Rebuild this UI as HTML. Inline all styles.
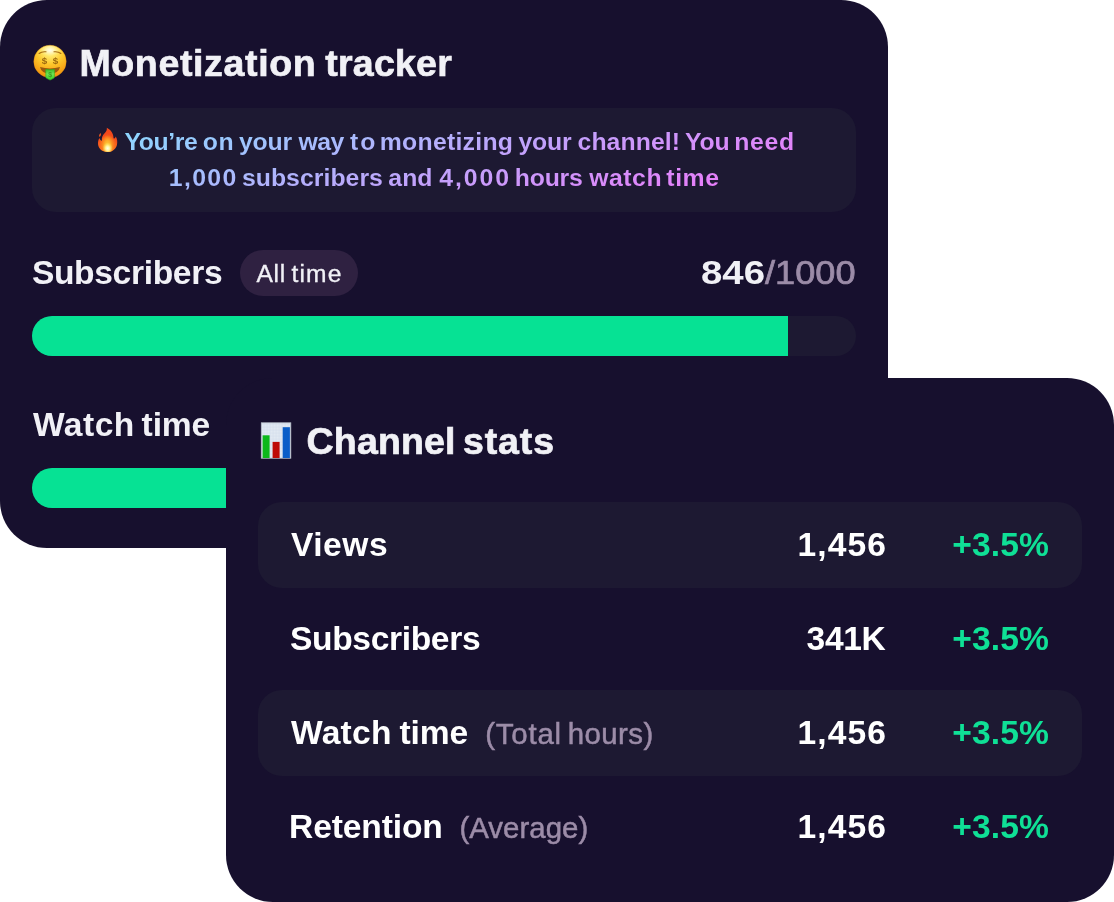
<!DOCTYPE html>
<html lang="en">
<head>
<meta charset="utf-8">
<title>Monetization tracker</title>
<style>
html,body{margin:0;padding:0;background:#fff}
body{width:1114px;height:902px;position:relative;overflow:hidden;font-family:"Liberation Sans",sans-serif;font-weight:700;color:#fff}
.card{position:absolute;width:888px;background:#17102e;border-radius:47px}
.box{position:absolute;background:#1d1932;border-radius:24px}
.bar{position:absolute;left:32px;width:824px;height:40px;border-radius:20px;background:#1d1932;overflow:hidden}
.bar i{display:block;width:756px;height:40px;background:#06e294}
.t{position:absolute;white-space:nowrap;margin:0}
.r{font-weight:400}
.h{color:#f1f1f6}
.m{color:#9c8ca8}
.g{color:#0fe096}
.e{position:absolute;display:block}
.grad{position:absolute;left:97px;top:124px;width:696px;height:72px;margin:0;background:linear-gradient(162.6deg,#86ddff,#f471f9);-webkit-background-clip:text;background-clip:text;color:transparent;-webkit-text-fill-color:transparent}
.grad>span{display:block;white-space:nowrap;height:36px}
</style>
</head>
<body>
<div class="card" style="left:0;top:0;height:548px"></div>
<svg class="e" style="left:30px;top:42px" width="40" height="40" viewBox="30 42 40 40" role="img" aria-label="money-mouth face">
<defs>
<radialGradient id="mf" cx="50" cy="50" r="28" gradientUnits="userSpaceOnUse"><stop offset="0" stop-color="#fffbd2"/><stop offset=".22" stop-color="#ffe86a"/><stop offset=".5" stop-color="#fdc82c"/><stop offset=".8" stop-color="#f7a416"/><stop offset="1" stop-color="#ec8c0c"/></radialGradient>
<linearGradient id="mt" x1="0" y1="69" x2="0" y2="80" gradientUnits="userSpaceOnUse"><stop offset="0" stop-color="#35b824"/><stop offset=".45" stop-color="#6ee455"/><stop offset="1" stop-color="#34cf27"/></linearGradient>
<radialGradient id="mh" cx=".5" cy=".5" r=".5"><stop offset="0" stop-color="#fffef0" stop-opacity=".85"/><stop offset="1" stop-color="#fff3a0" stop-opacity="0"/></radialGradient>
</defs>
<circle cx="50" cy="61.4" r="16.2" fill="url(#mf)" stroke="#ef9a10" stroke-opacity=".7" stroke-width=".6"/>
<ellipse cx="50" cy="50.5" rx="11.5" ry="5.5" fill="url(#mh)"/>
<path d="M39.1 53.5q2.8-2.3 6.9-1.7M54 51.8q4.1-.6 6.9 1.7" fill="none" stroke="#a5690f" stroke-width="1.1" stroke-linecap="round"/>
<text x="44.5" y="64.1" text-anchor="middle" font-family="Liberation Sans, sans-serif" font-weight="700" font-size="9.8" fill="#9c6a10">$</text>
<text x="55.6" y="64.1" text-anchor="middle" font-family="Liberation Sans, sans-serif" font-weight="700" font-size="9.8" fill="#9c6a10">$</text>
<path d="M40 67.1q10 2.7 20 0q-1.2 6.3-10 6.9q-8.8-.6-10-6.9z" fill="#9a5a0d"/>
<path d="M45.8 69.4q4.3.7 8.6 0v7.4q0 1-.8 1.5l-3 1.5q-.5.2-1 0l-3-1.5q-.8-.5-.8-1.5z" fill="url(#mt)" stroke="#2fb520" stroke-width=".6"/>
<text x="50.1" y="76.6" text-anchor="middle" font-family="Liberation Sans, sans-serif" font-weight="700" font-size="7" fill="#3f9f25">$</text>
</svg>
<div class="t h" style="left:79.4px;top:45px;font-size:37.5px;line-height:37.5px;-webkit-text-stroke:0.7px currentColor"><span style="letter-spacing:.65px;word-spacing:-2.24px">Monetization </span><span style="letter-spacing:.26px">tracker</span></div>
<div class="box" style="left:32px;top:108px;width:824px;height:104px"></div>
<svg class="e" style="left:96px;top:126px" width="24" height="28" viewBox="96 126 24 28" role="img" aria-label="fire">
<defs>
<radialGradient id="ff" cx="107.7" cy="146" r="17" gradientUnits="userSpaceOnUse"><stop offset="0" stop-color="#fc8a1f"/><stop offset=".45" stop-color="#f9691d"/><stop offset=".62" stop-color="#f24a1b"/><stop offset="1" stop-color="#f0461b"/></radialGradient>
<radialGradient id="fa" cx=".5" cy=".5" r=".5"><stop offset="0" stop-color="#ffd23f"/><stop offset=".45" stop-color="#fdb52b" stop-opacity=".85"/><stop offset="1" stop-color="#fb8a1e" stop-opacity="0"/></radialGradient>
<radialGradient id="fb" cx=".5" cy=".5" r=".5"><stop offset="0" stop-color="#fffef0"/><stop offset=".4" stop-color="#fff6a0" stop-opacity=".95"/><stop offset="1" stop-color="#ffdc4a" stop-opacity="0"/></radialGradient>
<clipPath id="fc"><path d="M106.8 127.7c3.1 1.6 6 4.6 6.5 8.3c.2 1.4.1 2.6.9 2.6c.8 0 1.2-1.1 1.5-2c1.5 2.2 1.9 5.4 1.3 8.1c-.9 3.9-4.2 7.3-9.4 7.3c-5.6 0-9.2-3.4-9.6-7.7c-.2-2.5.4-4.7 1.5-6.3c.4 1.4 1 2.6 2.4 2.8c-.5-3.3.8-5.6 2.7-7.5c1.6-1.6 2.6-3.3 2.2-5.6z"/></clipPath>
</defs>
<g clip-path="url(#fc)">
<rect x="96" y="126" width="24" height="28" fill="url(#ff)"/>
<ellipse cx="107.6" cy="145.5" rx="7.2" ry="11.5" fill="url(#fa)"/>
<ellipse cx="107.7" cy="148.3" rx="5.2" ry="6" fill="url(#fb)"/>
</g>
<path d="M100.6 133.1c.6 1.2.4 2.5-.5 3.4c-.7.6-1.2 0-1-.9c.2-1 .8-1.9 1.5-2.5z" fill="#f4561c"/>
</svg>
<p class="grad"><span style="padding-left:27.5px;font-size:24.8px;line-height:36px"><span style="letter-spacing:-.39px;word-spacing:-1.28px">You’re </span><span style="letter-spacing:.56px;word-spacing:-2.56px">on </span><span style="letter-spacing:-.23px">your </span><span style="letter-spacing:-.56px">way </span><span style="letter-spacing:1.96px;word-spacing:-6.4px">to </span><span style="letter-spacing:.25px;word-spacing:-1.76px">monetizing </span><span style="letter-spacing:-.23px;word-spacing:-.48px">your </span><span style="letter-spacing:.06px;word-spacing:-2.08px">channel! </span><span style="letter-spacing:-.14px;word-spacing:-2.08px">You </span><span style="letter-spacing:.75px">need</span></span><span style="padding-left:71.8px;font-size:24.8px;line-height:36px"><span style="letter-spacing:1.36px;word-spacing:-4px">1,000 </span><span style="letter-spacing:.04px;word-spacing:-1.6px">subscribers </span><span style="letter-spacing:.07px;word-spacing:-.32px">and </span><span style="letter-spacing:1.96px;word-spacing:-5.12px">4,000 </span><span style="letter-spacing:-.21px;word-spacing:-.16px">hours </span><span style="letter-spacing:.53px;word-spacing:-3.2px">watch </span><span style="letter-spacing:.56px">time</span></span></p>
<div class="t h" style="left:31.9px;top:256px;font-size:33.6px;line-height:33.6px;letter-spacing:-.34px">Subscribers</div>
<div class="box" style="left:240px;top:250px;width:118px;height:46px;border-radius:23px;background:#2f2141"></div>
<div class="t h r" style="left:256.5px;top:262px;font-size:24.6px;line-height:24.6px;-webkit-text-stroke:0.35px currentColor"><span style="letter-spacing:.7px;word-spacing:-2.08px">All </span><span style="letter-spacing:1.21px">time</span></div>
<div class="t h" style="left:701.06px;top:256px;font-size:33.6px;line-height:33.6px;transform:scaleX(1.144);transform-origin:0 0">846</div>
<div class="t m r" style="left:765px;top:256px;font-size:33.6px;line-height:33.6px;-webkit-text-stroke:0.7px currentColor;transform:scaleX(1.078);transform-origin:0 0">/1000</div>
<div class="bar" style="top:316px"><i></i></div>
<div class="t h" style="left:32.9px;top:408px;font-size:33.6px;line-height:33.6px"><span style="letter-spacing:.49px;word-spacing:-3.04px">Watch </span><span style="letter-spacing:-.14px">time</span></div>
<div class="bar" style="top:468px"><i></i></div>
<div class="card" style="left:226px;top:378px;height:524px"></div>
<svg class="e" style="left:260px;top:421px" width="32" height="38" viewBox="260 421 32 38" role="img" aria-label="bar chart">
<defs><pattern id="cg" x="261.3" y="422.8" width="1.5" height="1.5" patternUnits="userSpaceOnUse"><rect width="1.5" height="1.5" fill="#e2eaf3"/><path d="M0 .2H1.5M.2 0V1.5" stroke="#cfdbe8" stroke-width=".4"/></pattern></defs>
<rect x="261.3" y="422.8" width="29.5" height="35.4" fill="url(#cg)" stroke="#b9c0cb" stroke-width=".8"/>
<rect x="262.6" y="435.3" width="7" height="22.7" fill="#0cb81b"/>
<rect x="272.6" y="441.9" width="7" height="16.1" fill="#be0a07"/>
<rect x="282.7" y="427.2" width="7.2" height="30.8" fill="#0a5dc8"/>
</svg>
<div class="t h" style="left:306.6px;top:423px;font-size:37.5px;line-height:37.5px;-webkit-text-stroke:0.7px currentColor"><span style="letter-spacing:.16px;word-spacing:-3.36px">Channel </span><span style="letter-spacing:.91px">stats</span></div>
<div class="box" style="left:258px;top:502px;width:824px;height:86px"></div>
<div class="box" style="left:258px;top:690px;width:824px;height:86px"></div>
<div class="t" style="left:291px;top:528px;font-size:33.6px;line-height:33.6px;letter-spacing:.5px">Views</div>
<div class="t" style="left:797.5px;top:528px;font-size:33.6px;line-height:33.6px;letter-spacing:1.12px">1,456</div>
<div class="t g" style="left:952.3px;top:528px;font-size:33.6px;line-height:33.6px;letter-spacing:.12px">+3.5%</div>
<div class="t" style="left:290px;top:622px;font-size:33.6px;line-height:33.6px;letter-spacing:-.35px">Subscribers</div>
<div class="t" style="left:806.6px;top:622px;font-size:33.6px;line-height:33.6px;letter-spacing:-.37px">341K</div>
<div class="t g" style="left:952.3px;top:622px;font-size:33.6px;line-height:33.6px;letter-spacing:.12px">+3.5%</div>
<div class="t" style="left:291px;top:716px;font-size:33.6px;line-height:33.6px"><span style="letter-spacing:.25px;word-spacing:-1.76px">Watch </span><span style="letter-spacing:-.14px">time</span></div>
<div class="t m r" style="left:485.3px;top:719px;font-size:29.4px;line-height:29.4px;-webkit-text-stroke:0.5px currentColor"><span style="letter-spacing:.78px;word-spacing:-3.04px">(Total </span><span style="letter-spacing:.42px">hours)</span></div>
<div class="t" style="left:797.5px;top:716px;font-size:33.6px;line-height:33.6px;letter-spacing:1.12px">1,456</div>
<div class="t g" style="left:952.3px;top:716px;font-size:33.6px;line-height:33.6px;letter-spacing:.12px">+3.5%</div>
<div class="t" style="left:289px;top:810px;font-size:33.6px;line-height:33.6px;letter-spacing:-.12px">Retention</div>
<div class="t m r" style="left:459.4px;top:813px;font-size:29.4px;line-height:29.4px;letter-spacing:.05px;-webkit-text-stroke:0.5px currentColor">(Average)</div>
<div class="t" style="left:797.5px;top:810px;font-size:33.6px;line-height:33.6px;letter-spacing:1.12px">1,456</div>
<div class="t g" style="left:952.3px;top:810px;font-size:33.6px;line-height:33.6px;letter-spacing:.12px">+3.5%</div>
</body>
</html>
